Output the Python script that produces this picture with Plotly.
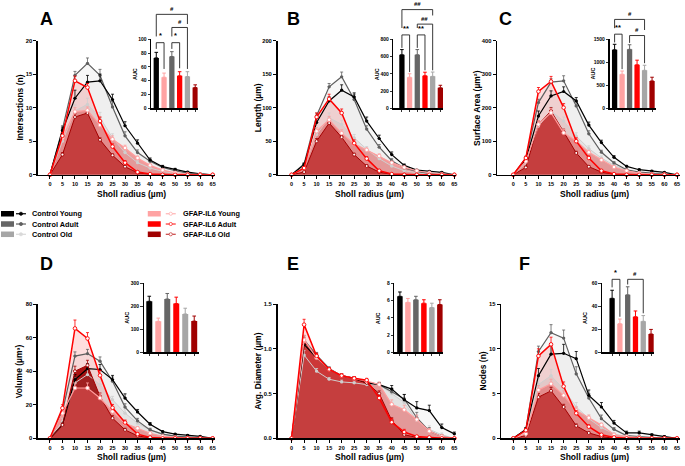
import plotly.graph_objects as go

W, H = 685, 466
FONT = "Liberation Sans, Arial, sans-serif"

radius = [0, 5, 10, 15, 20, 25, 30, 35, 40, 45, 50, 55, 60, 65]
radius_labels = [str(r) for r in radius]
series_names = {"cy": "Control Young", "ca": "Control Adult", "co": "Control Old",
                "gy": "GFAP-IL6 Young", "ga": "GFAP-IL6 Adult", "go": "GFAP-IL6 Old"}
bar_order = ["cy", "gy", "ca", "ga", "co", "go"]

# ---------------- A: Intersections (n) ----------------
A_cy = [0, 6.6, 11.4, 13.8, 14.0, 11.2, 7.3, 4.7, 2.2, 1.2, 0.8, 0.4, 0.15, 0]
A_ca = [0, 6.8, 14.8, 16.6, 14.8, 10.1, 5.8, 3.3, 2.0, 1.1, 0.6, 0.25, 0.1, 0]
A_co = [0, 5.0, 9.5, 10.5, 8.5, 5.5, 3.3, 1.8, 1.0, 0.5, 0.2, 0.1, 0.05, 0]
A_gy = [0, 5.5, 9.4, 9.6, 7.4, 5.3, 4.0, 2.5, 1.4, 0.7, 0.3, 0.1, 0.05, 0]
A_ga = [0, 5.8, 14.0, 13.0, 8.0, 4.2, 1.8, 0.4, 0.1, 0, 0, 0, 0, 0]
A_go = [0, 3.0, 8.6, 9.2, 5.2, 2.9, 1.2, 0.3, 0.05, 0, 0, 0, 0, 0]
A_cy_err = [0, 0.5, 1.2, 1.0, 1.0, 0.8, 0.6, 0.5, 0.3, 0.2, 0.15, 0.1, 0.05, 0]
A_ca_err = [0, 0.5, 0.6, 0.8, 0.9, 0.8, 0.6, 0.4, 0.3, 0.2, 0.1, 0.1, 0.05, 0]
A_co_err = [0, 0.5, 0.9, 0.9, 0.8, 0.6, 0.4, 0.3, 0.2, 0.1, 0.1, 0.05, 0.05, 0]
A_gy_err = [0, 0.5, 0.6, 0.5, 0.5, 0.5, 0.4, 0.3, 0.2, 0.1, 0.1, 0.05, 0, 0]
A_ga_err = [0, 0.5, 0.7, 0.6, 0.6, 0.4, 0.3, 0.1, 0.05, 0, 0, 0, 0, 0]
A_go_err = [0, 0.3, 0.5, 0.4, 0.3, 0.2, 0.2, 0.1, 0, 0, 0, 0, 0, 0]
A_auc = [73, 45, 75, 47, 46, 30]
A_auc_err = [8, 6, 7, 6, 7, 4]

# ---------------- B: Length (um) ----------------
B_cy = [0, 15, 78, 110, 126, 116, 80, 54, 30, 14, 7, 5, 3.5, 0]
B_ca = [0, 16, 88, 131, 146, 112, 68, 41, 21, 10, 5, 2, 1, 0]
B_co = [0, 12, 60, 85, 75, 55, 38, 24, 13, 6, 3, 1, 0.5, 0]
B_gy = [0, 10, 65, 82, 62, 46, 37, 28, 18, 11, 6, 3, 1, 0]
B_ga = [0, 10, 86, 113, 92, 47, 24, 6, 1, 0, 0, 0, 0, 0]
B_go = [0, 4, 50, 77, 56, 30, 13, 4, 0.5, 0, 0, 0, 0, 0]
B_cy_err = [0, 2, 8, 6, 8, 6, 6, 5, 4, 2, 1, 1, 1, 0]
B_ca_err = [0, 2, 4, 5, 7, 8, 5, 4, 3, 2, 1, 0.5, 0.5, 0]
B_co_err = [0, 2, 6, 7, 6, 5, 4, 3, 2, 1, 0.5, 0.3, 0.2, 0]
B_gy_err = [0, 2, 5, 5, 5, 4, 3, 3, 2, 1.5, 1, 0.5, 0.3, 0]
B_ga_err = [0, 2, 6, 7, 6, 5, 3, 1, 0.5, 0, 0, 0, 0, 0]
B_go_err = [0, 1, 4, 4, 3, 2, 2, 1, 0.2, 0, 0, 0, 0, 0]
B_auc = [620, 360, 620, 378, 370, 237]
B_auc_err = [60, 40, 60, 40, 50, 30]

# ---------------- C: Surface Area (um2) ----------------
C_cy = [0, 45, 175, 235, 248, 220, 148, 96, 52, 25, 15, 11, 7, 0]
C_ca = [0, 50, 215, 276, 280, 205, 122, 67, 35, 15, 8, 4, 2, 0]
C_co = [0, 35, 145, 190, 160, 115, 78, 50, 28, 14, 6, 3, 1, 0]
C_gy = [0, 40, 150, 185, 125, 101, 67, 44, 23, 12, 5, 2, 1, 0]
C_ga = [0, 50, 248, 278, 200, 100, 50, 12, 2, 0, 0, 0, 0, 0]
C_go = [0, 22, 150, 190, 128, 65, 24, 8, 1, 0, 0, 0, 0, 0]
C_cy_err = [0, 5, 15, 15, 14, 10, 9, 7, 5, 3, 2, 2, 1, 0]
C_ca_err = [0, 5, 10, 10, 15, 14, 9, 6, 4, 2, 1, 1, 0.5, 0]
C_co_err = [0, 5, 12, 12, 12, 10, 8, 6, 4, 2, 1, 0.5, 0.3, 0]
C_gy_err = [0, 5, 10, 12, 10, 8, 6, 5, 3, 2, 1, 0.5, 0.3, 0]
C_ga_err = [0, 5, 12, 15, 12, 10, 6, 3, 1, 0, 0, 0, 0, 0]
C_go_err = [0, 3, 10, 10, 8, 5, 3, 2, 0.5, 0, 0, 0, 0, 0]
C_auc = [1270, 740, 1280, 945, 825, 595]
C_auc_err = [120, 70, 100, 100, 110, 80]

# ---------------- D: Volume (um3) ----------------
D_cy = [0, 8, 35, 41.5, 41, 35, 24, 15.7, 8.4, 4, 2.5, 1.8, 1.2, 0]
D_ca = [0, 16, 49, 50.5, 46, 34, 18.6, 10.4, 5, 2.5, 1.3, 0.6, 0.3, 0]
D_co = [0, 10, 33, 38, 32, 23, 15, 9, 5, 2.5, 1.2, 0.5, 0.2, 0]
D_gy = [0, 15, 30, 30, 24, 16, 9, 6, 3, 1.2, 0.5, 0.2, 0.1, 0]
D_ga = [0, 18, 65.5, 59.5, 37.5, 18.2, 9.4, 2.5, 0.5, 0, 0, 0, 0, 0]
D_go = [0, 8, 40, 43.5, 25, 12, 5, 1.5, 0.2, 0, 0, 0, 0, 0]
D_cy_err = [0, 1, 3, 3, 3, 2.5, 2.5, 1.5, 1, 0.5, 0.4, 0.3, 0.2, 0]
D_ca_err = [0, 2, 2.5, 2.5, 2.5, 2.5, 2, 1.5, 1, 0.5, 0.3, 0.2, 0.1, 0]
D_co_err = [0, 2, 3, 3, 3, 2, 2, 1, 0.8, 0.4, 0.2, 0.1, 0.1, 0]
D_gy_err = [0, 2, 3, 3, 2.5, 2, 1.5, 1, 0.6, 0.3, 0.2, 0.1, 0, 0]
D_ga_err = [0, 2, 5, 3.5, 3, 2, 1.5, 0.8, 0.3, 0, 0, 0, 0, 0]
D_go_err = [0, 1, 3, 3, 2, 1.5, 1, 0.5, 0.1, 0, 0, 0, 0, 0]
D_auc = [222, 135, 232, 212, 167, 136]
D_auc_err = [22, 14, 24, 28, 25, 22]

# ---------------- E: Avg. Diameter (um) ----------------
E_cy = [0, 1.05, 0.90, 0.77, 0.70, 0.67, 0.62, 0.60, 0.55, 0.43, 0.34, 0.31, 0.12, 0.05]
E_ca = [0, 1.10, 0.93, 0.78, 0.70, 0.67, 0.63, 0.60, 0.52, 0.44, 0.23, 0.08, 0.02, 0]
E_co = [0, 0.93, 0.75, 0.66, 0.63, 0.62, 0.60, 0.60, 0.50, 0.40, 0.20, 0.10, 0.04, 0]
E_gy = [0, 1.10, 0.90, 0.77, 0.70, 0.67, 0.64, 0.60, 0.38, 0.32, 0.21, 0.08, 0.02, 0]
E_ga = [0, 1.27, 0.92, 0.77, 0.70, 0.67, 0.65, 0.45, 0.18, 0.07, 0.02, 0.01, 0, 0]
E_go = [0, 1.08, 0.92, 0.77, 0.70, 0.67, 0.62, 0.50, 0.20, 0.04, 0.01, 0, 0, 0]
E_cy_err = [0, 0.05, 0.03, 0.02, 0.02, 0.02, 0.02, 0.02, 0.04, 0.06, 0.07, 0.06, 0.04, 0.02]
E_ca_err = [0, 0.05, 0.03, 0.02, 0.02, 0.02, 0.02, 0.02, 0.04, 0.05, 0.06, 0.04, 0.02, 0]
E_co_err = [0, 0.05, 0.03, 0.02, 0.02, 0.02, 0.02, 0.02, 0.04, 0.05, 0.05, 0.04, 0.02, 0]
E_gy_err = [0, 0.05, 0.03, 0.02, 0.02, 0.02, 0.02, 0.03, 0.05, 0.05, 0.05, 0.03, 0.02, 0]
E_ga_err = [0, 0.06, 0.03, 0.02, 0.02, 0.02, 0.02, 0.03, 0.04, 0.03, 0.01, 0.01, 0, 0]
E_go_err = [0, 0.05, 0.03, 0.02, 0.02, 0.02, 0.02, 0.03, 0.03, 0.02, 0.01, 0, 0, 0]
E_auc = [6.5, 5.8, 6.1, 5.7, 5.2, 5.55]
E_auc_err = [0.5, 0.45, 0.4, 0.4, 0.5, 0.55]

# ---------------- F: Nodes (n) ----------------
F_cy = [0, 1.0, 7.0, 9.4, 9.5, 8.9, 4.8, 3.5, 1.7, 0.6, 0.6, 0.4, 0.2, 0]
F_ca = [0, 1.0, 9.7, 11.8, 11.2, 7.2, 4.5, 2.2, 1.0, 0.3, 0.2, 0.1, 0, 0]
F_co = [0, 0.8, 6.0, 7.0, 5.5, 3.5, 2.2, 1.2, 0.5, 0.2, 0.1, 0, 0, 0]
F_gy = [0, 0.5, 5.4, 6.1, 4.8, 3.1, 2.3, 1.5, 0.4, 0.2, 0.1, 0, 0, 0]
F_ga = [0, 0.9, 9.2, 10.5, 5.8, 2.8, 1.3, 0.4, 0.1, 0, 0, 0, 0, 0]
F_go = [0, 0.3, 4.6, 5.3, 3.5, 1.4, 0.6, 0.2, 0, 0, 0, 0, 0, 0]
F_cy_err = [0, 0.2, 0.8, 1.0, 1.0, 0.8, 0.6, 0.5, 0.3, 0.2, 0.2, 0.1, 0.1, 0]
F_ca_err = [0, 0.2, 0.6, 0.9, 0.9, 0.8, 0.5, 0.4, 0.2, 0.1, 0.1, 0.05, 0, 0]
F_co_err = [0, 0.2, 0.7, 0.7, 0.6, 0.5, 0.4, 0.3, 0.1, 0.05, 0, 0, 0, 0]
F_gy_err = [0, 0.2, 0.5, 0.5, 0.5, 0.4, 0.3, 0.2, 0.1, 0.05, 0, 0, 0, 0]
F_ga_err = [0, 0.2, 0.8, 0.8, 0.5, 0.3, 0.2, 0.1, 0.05, 0, 0, 0, 0, 0]
F_go_err = [0, 0.1, 0.4, 0.4, 0.3, 0.2, 0.1, 0.05, 0, 0, 0, 0, 0, 0]
F_auc = [47, 25, 50, 31, 27, 16]
F_auc_err = [7, 4, 7, 5, 5, 4]

data = {
    "A": (dict(cy=A_cy, ca=A_ca, co=A_co, gy=A_gy, ga=A_ga, go=A_go),
          dict(cy=A_cy_err, ca=A_ca_err, co=A_co_err, gy=A_gy_err, ga=A_ga_err, go=A_go_err), A_auc, A_auc_err),
    "B": (dict(cy=B_cy, ca=B_ca, co=B_co, gy=B_gy, ga=B_ga, go=B_go),
          dict(cy=B_cy_err, ca=B_ca_err, co=B_co_err, gy=B_gy_err, ga=B_ga_err, go=B_go_err), B_auc, B_auc_err),
    "C": (dict(cy=C_cy, ca=C_ca, co=C_co, gy=C_gy, ga=C_ga, go=C_go),
          dict(cy=C_cy_err, ca=C_ca_err, co=C_co_err, gy=C_gy_err, ga=C_ga_err, go=C_go_err), C_auc, C_auc_err),
    "D": (dict(cy=D_cy, ca=D_ca, co=D_co, gy=D_gy, ga=D_ga, go=D_go),
          dict(cy=D_cy_err, ca=D_ca_err, co=D_co_err, gy=D_gy_err, ga=D_ga_err, go=D_go_err), D_auc, D_auc_err),
    "E": (dict(cy=E_cy, ca=E_ca, co=E_co, gy=E_gy, ga=E_ga, go=E_go),
          dict(cy=E_cy_err, ca=E_ca_err, co=E_co_err, gy=E_gy_err, ga=E_ga_err, go=E_go_err), E_auc, E_auc_err),
    "F": (dict(cy=F_cy, ca=F_ca, co=F_co, gy=F_gy, ga=F_ga, go=F_go),
          dict(cy=F_cy_err, ca=F_ca_err, co=F_co_err, gy=F_gy_err, ga=F_ga_err, go=F_go_err), F_auc, F_auc_err),
}

# ---------------- styles ----------------
line_color = {"cy": "#000000", "ca": "#5f5f5f", "co": "#cfcfcf",
              "gy": "#ff9d9d", "ga": "#ff0000", "go": "#a30000"}
line_width = {"cy": 1.2, "ca": 1.2, "co": 1.0, "gy": 1.2, "ga": 1.5, "go": 1.0}
fill_color = {"go": "rgba(163,18,18,1)", "ga": "rgba(255,0,0,0.13)", "gy": "rgba(255,90,90,0.55)",
              "co": "rgba(150,150,150,0.11)", "ca": "rgba(100,100,100,0.05)", "cy": "rgba(0,0,0,0.03)"}
bar_color = {"cy": "#000000", "gy": "#ffa3a3", "ca": "#666666",
             "ga": "#ff0000", "co": "#a6a6a6", "go": "#a00000"}
open_marker = {"gy", "ga", "go"}

cfg = {
    "A": dict(n=1, ytitle="Intersections (n)", ytx=20, ymax=20, yt=[0, 5, 10, 15, 20], ytt=None,
              iymax=100, itv=[0, 20, 40, 60, 80, 100], letter_x=38, letter_y=4, xtc=132,
              brackets=[(0, 1, "*", 95, 86, 57), (2, 3, "*", 95, 86, 58),
                        (0, 4, "#", 136, 104, 122), (2, 4, "#", 117, 104, 57)]),
    "B": dict(n=2, ytitle="Length (µm)", ytx=258, ymax=200, yt=[0, 50, 100, 150, 200], ytt=None,
              iymax=800, itv=[0, 200, 400, 600, 800], letter_x=285, letter_y=4, xtc=370,
              brackets=[(0, 1, "**", 850, 700, 420), (2, 3, "**", 850, 700, 440),
                        (0, 4, "##", 1143, 930, 1075), (2, 4, "##", 975, 930, 440)]),
    "C": dict(n=3, ytitle="Surface Area (µm²)", ytx=477, ymax=400, yt=[0, 100, 200, 300, 400], ytt=None,
              iymax=1500, itv=[0, 500, 1000, 1500], letter_x=498, letter_y=4, xtc=595,
              brackets=[(0, 1, "**", 1610, 1430, 850), (0, 4, "#", 1930, 1740, 1700),
                        (2, 4, "#", 1580, 1420, 980)]),
    "D": dict(n=4, ytitle="Volume (µm³)", ytx=19, ymax=80, yt=[0, 20, 40, 60, 80], ytt=None,
              iymax=300, itv=[0, 100, 200, 300], letter_x=38, letter_y=252, xtc=132, brackets=[]),
    "E": dict(n=5, ytitle="Avg. Diameter (µm)", ytx=259, ymax=1.5, yt=[0, 0.5, 1.0, 1.5],
              ytt=["0.0", "0.5", "1.0", "1.5"],
              iymax=8, itv=[0, 2, 4, 6, 8], letter_x=285, letter_y=252, xtc=370, brackets=[]),
    "F": dict(n=6, ytitle="Nodes (n)", ytx=484, ymax=15, yt=[0, 5, 10, 15], ytt=None,
              iymax=60, itv=[0, 20, 40, 60], letter_x=518, letter_y=252, xtc=595,
              brackets=[(0, 1, "*", 63.5, 56.5, 31), (2, 4, "#", 63.5, 59, 34)]),
}

main_geom = {
    "A": dict(x0=38, x1=215, ytop=38, ybot=174, xz=50, x65=213),
    "B": dict(x0=278, x1=457, ytop=38, ybot=174, xz=292, x65=455),
    "C": dict(x0=498, x1=681, ytop=38, ybot=174, xz=514, x65=678),
    "D": dict(x0=38, x1=215, ytop=305, ybot=441, xz=50, x65=213),
    "E": dict(x0=278, x1=457, ytop=305, ybot=441, xz=292, x65=455),
    "F": dict(x0=502, x1=681, ytop=305, ybot=441, xz=514, x65=678),
}
inset_geom = {
    "A": dict(x0=151.5, x1=198, ytop=36.7, ybot=106.7, c0=156.5, c5=195.5, bw=5.3),
    "B": dict(x0=394, x1=444, ytop=36.7, ybot=106.7, c0=402.5, c5=441, bw=5.3),
    "C": dict(x0=610.5, x1=657, ytop=36.7, ybot=106.7, c0=615.5, c5=653, bw=5.3),
    "D": dict(x0=144, x1=199, ytop=284, ybot=354, c0=149.5, c5=194.5, bw=6),
    "E": dict(x0=395, x1=444, ytop=284, ybot=354, c0=400.5, c5=440.5, bw=5.5),
    "F": dict(x0=603, x1=655, ytop=284, ybot=354, c0=613, c5=652, bw=5.3),
}


def axn(n, k):
    return f"{k}axis" if n == 1 else f"{k}axis{n}"


def axr(n, k):
    return k if n == 1 else f"{k}{n}"


def bold(size):
    return dict(family=FONT, size=size, color="black", weight="bold")


base_axis = dict(showline=True, linecolor="black", ticks="outside", tickcolor="black",
                 showgrid=False, zeroline=False, fixedrange=True)

fig = go.Figure()
layout = {}
annotations = []
shapes = []

for key, c in cfg.items():
    vals, errs, auc, auc_err = data[key]
    n = c["n"]
    m = n + 6
    g = main_geom[key]
    k = (g["x65"] - g["xz"]) / 65.0
    xr = [-(g["xz"] - g["x0"]) / k, 65 + (g["x1"] - g["x65"]) / k]
    layout[axn(n, "x")] = dict(domain=[g["x0"] / W, g["x1"] / W], range=xr, anchor=axr(n, "y"),
                               tickvals=radius, ticktext=radius_labels, tickfont=bold(5.5),
                               linewidth=1.6, ticklen=3, tickwidth=1, **base_axis)
    yax = dict(domain=[1 - g["ybot"] / H, 1 - g["ytop"] / H], range=[0, c["ymax"]], anchor=axr(n, "x"),
               tickvals=c["yt"], tickfont=bold(5.8), linewidth=1.6, ticklen=3, tickwidth=1, **base_axis)
    if c["ytt"]:
        yax["ticktext"] = c["ytt"]
    layout[axn(n, "y")] = yax

    # fills (back to front)
    for s in ["go", "ga", "gy", "co", "ca", "cy"]:
        fig.add_trace(go.Scatter(x=radius, y=vals[s], mode="none", fill="tozeroy",
                                 fillcolor=fill_color[s], xaxis=axr(n, "x"), yaxis=axr(n, "y"),
                                 hoverinfo="skip", showlegend=False))
    # lines
    for s in ["co", "ca", "cy", "go", "gy", "ga"]:
        if s in open_marker:
            mk = dict(symbol="circle", size=3.6 if s != "go" else 3.0, color="white",
                      line=dict(color=line_color[s], width=0.9))
        else:
            mk = dict(symbol="circle", size=3.2, color=line_color[s], line=dict(width=0))
        fig.add_trace(go.Scatter(
            x=radius, y=vals[s], mode="lines+markers", name=series_names[s],
            line=dict(color=line_color[s], width=line_width[s]), marker=mk,
            error_y=dict(type="data", array=errs[s], arrayminus=[0] * len(radius), symmetric=False,
                         color=line_color[s], thickness=0.8, width=1.5),
            xaxis=axr(n, "x"), yaxis=axr(n, "y"), cliponaxis=False, hoverinfo="skip", showlegend=False))

    # inset
    ig = inset_geom[key]
    kx = (ig["c5"] - ig["c0"]) / 5.0
    ixr = [-(ig["c0"] - ig["x0"]) / kx, 5 + (ig["x1"] - ig["c5"]) / kx]
    layout[axn(m, "x")] = dict(domain=[ig["x0"] / W, ig["x1"] / W], range=ixr, anchor=axr(m, "y"),
                               tickvals=list(range(6)), ticktext=[""] * 6, linewidth=1.2,
                               ticklen=2, tickwidth=0.8, **base_axis)
    layout[axn(m, "y")] = dict(domain=[1 - ig["ybot"] / H, 1 - ig["ytop"] / H], range=[0, c["iymax"]],
                               anchor=axr(m, "x"), tickvals=c["itv"], tickfont=bold(5),
                               linewidth=1.2, ticklen=2.5, tickwidth=0.8, **base_axis)
    for i, s in enumerate(bar_order):
        fig.add_trace(go.Bar(x=[i], y=[auc[i]], width=ig["bw"] / kx, marker=dict(color=bar_color[s], line=dict(width=0)),
                             error_y=dict(type="data", array=[auc_err[i]], arrayminus=[0], symmetric=False,
                                          color=bar_color[s], thickness=1, width=1.8),
                             xaxis=axr(m, "x"), yaxis=axr(m, "y"), hoverinfo="skip", showlegend=False))

    def ipx(i, v):
        return ig["c0"] + i * kx, ig["ybot"] - v / c["iymax"] * (ig["ybot"] - ig["ytop"])

    for (i, j, txt, lvl, lend, rend) in c["brackets"]:
        xl, yl = ipx(i, lend)
        xr2, yr = ipx(j, rend)
        _, yt = ipx(i, lvl)
        path = (f"M {xl / W},{1 - yl / H} L {xl / W},{1 - yt / H} "
                f"L {xr2 / W},{1 - yt / H} L {xr2 / W},{1 - yr / H}")
        shapes.append(dict(type="path", xref="paper", yref="paper", path=path,
                           line=dict(color="#222222", width=0.9)))
        annotations.append(dict(x=(xl + xr2) / 2 / W, y=1 - (yt - 0.3) / H, xref="paper", yref="paper",
                                text=txt, showarrow=False, yanchor="bottom", xanchor="center",
                                font=bold(7.5 if "*" in txt else 6)))

    # inset y title
    annotations.append(dict(x=(ig["x0"] - 17) / W, y=1 - (ig["ytop"] + ig["ybot"]) / 2 / H,
                            xref="paper", yref="paper", text="AUC", textangle=-90, showarrow=False,
                            xanchor="center", yanchor="middle", font=bold(5.5)))
    # main titles
    annotations.append(dict(x=c["ytx"] / W, y=1 - (g["ytop"] + g["ybot"]) / 2 / H, xref="paper", yref="paper",
                            text=c["ytitle"], textangle=-90, showarrow=False, xanchor="center",
                            yanchor="middle", font=bold(8.5)))
    annotations.append(dict(x=c["xtc"] / W, y=1 - (g["ybot"] + 19) / H, xref="paper", yref="paper",
                            text="Sholl radius (µm)", showarrow=False, xanchor="center",
                            yanchor="middle", font=bold(8.5)))
    annotations.append(dict(x=c["letter_x"] / W, y=1 - c["letter_y"] / H, xref="paper", yref="paper",
                            text=key, showarrow=False, xanchor="left", yanchor="top", font=bold(18)))

# ---------------- legend (drawn manually) ----------------
legend_rect = {"cy": "#000000", "ca": "#666666", "co": "#a6a6a6",
               "gy": "#ffa3a3", "ga": "#ff0000", "go": "#a00000"}
legend_line = {"cy": "#000000", "ca": "#5f5f5f", "co": "#d9d9d9",
               "gy": "#ffb3b3", "ga": "#ff3030", "go": "#c84040"}
legend_items = [("cy", 0, 0), ("ca", 0, 1), ("co", 0, 2), ("gy", 1, 0), ("ga", 1, 1), ("go", 1, 2)]
for s, col, row in legend_items:
    yc = 213.5 + 10.4 * row
    rx0, lx0, tx = (1, 16, 30) if col == 0 else (148, 166, 181)
    shapes.append(dict(type="rect", xref="paper", yref="paper", x0=rx0 / W, x1=(rx0 + 13) / W,
                       y0=1 - (yc + 2.8) / H, y1=1 - (yc - 2.8) / H,
                       fillcolor=legend_rect[s], line=dict(width=0)))
    shapes.append(dict(type="line", xref="paper", yref="paper", x0=lx0 / W, x1=(lx0 + 10) / W,
                       y0=1 - yc / H, y1=1 - yc / H, line=dict(color=legend_line[s], width=1.2)))
    cx = lx0 + 5
    r = 1.6
    shapes.append(dict(type="circle", xref="paper", yref="paper", x0=(cx - r) / W, x1=(cx + r) / W,
                       y0=1 - (yc + r) / H, y1=1 - (yc - r) / H,
                       fillcolor="white" if s in open_marker else legend_line[s],
                       line=dict(color=legend_line[s], width=0.8)))
    annotations.append(dict(x=tx / W, y=1 - yc / H, xref="paper", yref="paper", text=series_names[s],
                            showarrow=False, xanchor="left", yanchor="middle", font=bold(7.3)))

fig.update_layout(width=W, height=H, margin=dict(l=0, r=0, t=0, b=0), paper_bgcolor="white",
                  plot_bgcolor="rgba(0,0,0,0)", showlegend=False, hovermode=False,
                  barmode="overlay", font=dict(family=FONT, color="black"),
                  annotations=annotations, shapes=shapes, **layout)
fig.write_html("out.html", config={"displayModeBar": False, "staticPlot": True},
               post_script="document.body.style.margin='0px';document.body.style.overflow='hidden';")
